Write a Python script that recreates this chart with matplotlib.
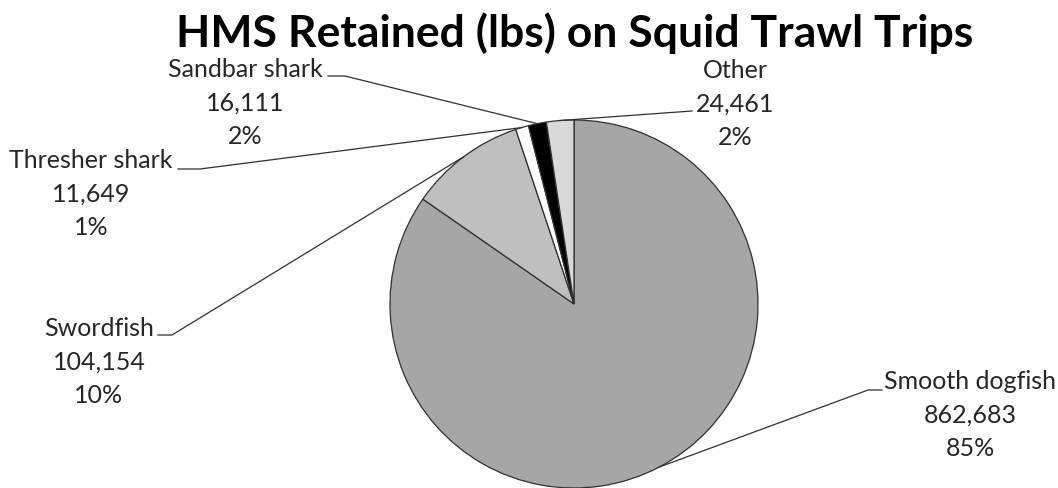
import matplotlib
matplotlib.use("Agg")
import matplotlib.pyplot as plt
import numpy as np

# ── data ──────────────────────────────────────────────────────
species = ["Smooth dogfish", "Swordfish", "Thresher shark", "Sandbar shark", "Other"]
pounds  = [862683, 104154, 11649, 16111, 24461]
colors  = ["#a6a6a6", "#bfbfbf", "#ffffff", "#000000", "#d9d9d9"]

W, H = 1058, 489

# label block centre and leader elbow (pixel coords, y from top)
label_xy = {
    "Smooth dogfish": (970, 415),
    "Swordfish":      (99, 362),
    "Thresher shark": (91, 194),
    "Sandbar shark":  (245, 103),
    "Other":          (735, 104),
}
elbow = {
    "Smooth dogfish": [(868, 391), (882, 391)],
    "Swordfish":      [(172, 336), (158, 336)],
    "Thresher shark": [(200, 170), (178, 170)],
    "Sandbar shark":  [(345, 77), (328, 77)],
    "Other":          [(692, 112)],
}

plt.rcParams["font.family"] = ["Lato", "DejaVu Sans"]

fig = plt.figure(figsize=(W / 100, H / 100), dpi=100)
ax = fig.add_axes([0, 0, 1, 1])

cx, cy, R = 574, 305, 184
wedges, _ = ax.pie(pounds, colors=colors, startangle=90, counterclock=False,
                   center=(cx, H - cy), radius=R,
                   wedgeprops=dict(edgecolor="#303030", linewidth=0.9))
ax.set_xlim(0, W)
ax.set_ylim(0, H)
ax.set_aspect("auto")
ax.axis("off")

total = sum(pounds)
for w, name, val in zip(wedges, species, pounds):
    mid = np.deg2rad((w.theta1 + w.theta2) / 2)
    px = cx + R * np.cos(mid)
    py = H - cy + R * np.sin(mid)
    pts = [(px, py)] + [(x, H - y) for x, y in elbow[name]]
    xs, ys = zip(*pts)
    ax.plot(xs, ys, color="#303030", lw=0.9, zorder=5)

    lx, ly = label_xy[name]
    pct = round(val / total * 100)
    ax.text(lx, H - ly, f"{name}\n{val:,}\n{pct}%", ha="center", va="center",
            fontsize=18, color="#262626", linespacing=1.56)

fig.text(575 / W, 1 - 33 / H, "HMS Retained (lbs) on Squid Trawl Trips",
         ha="center", va="center", fontsize=32, fontweight="bold", color="black")

fig.savefig("out.png", dpi=100)
